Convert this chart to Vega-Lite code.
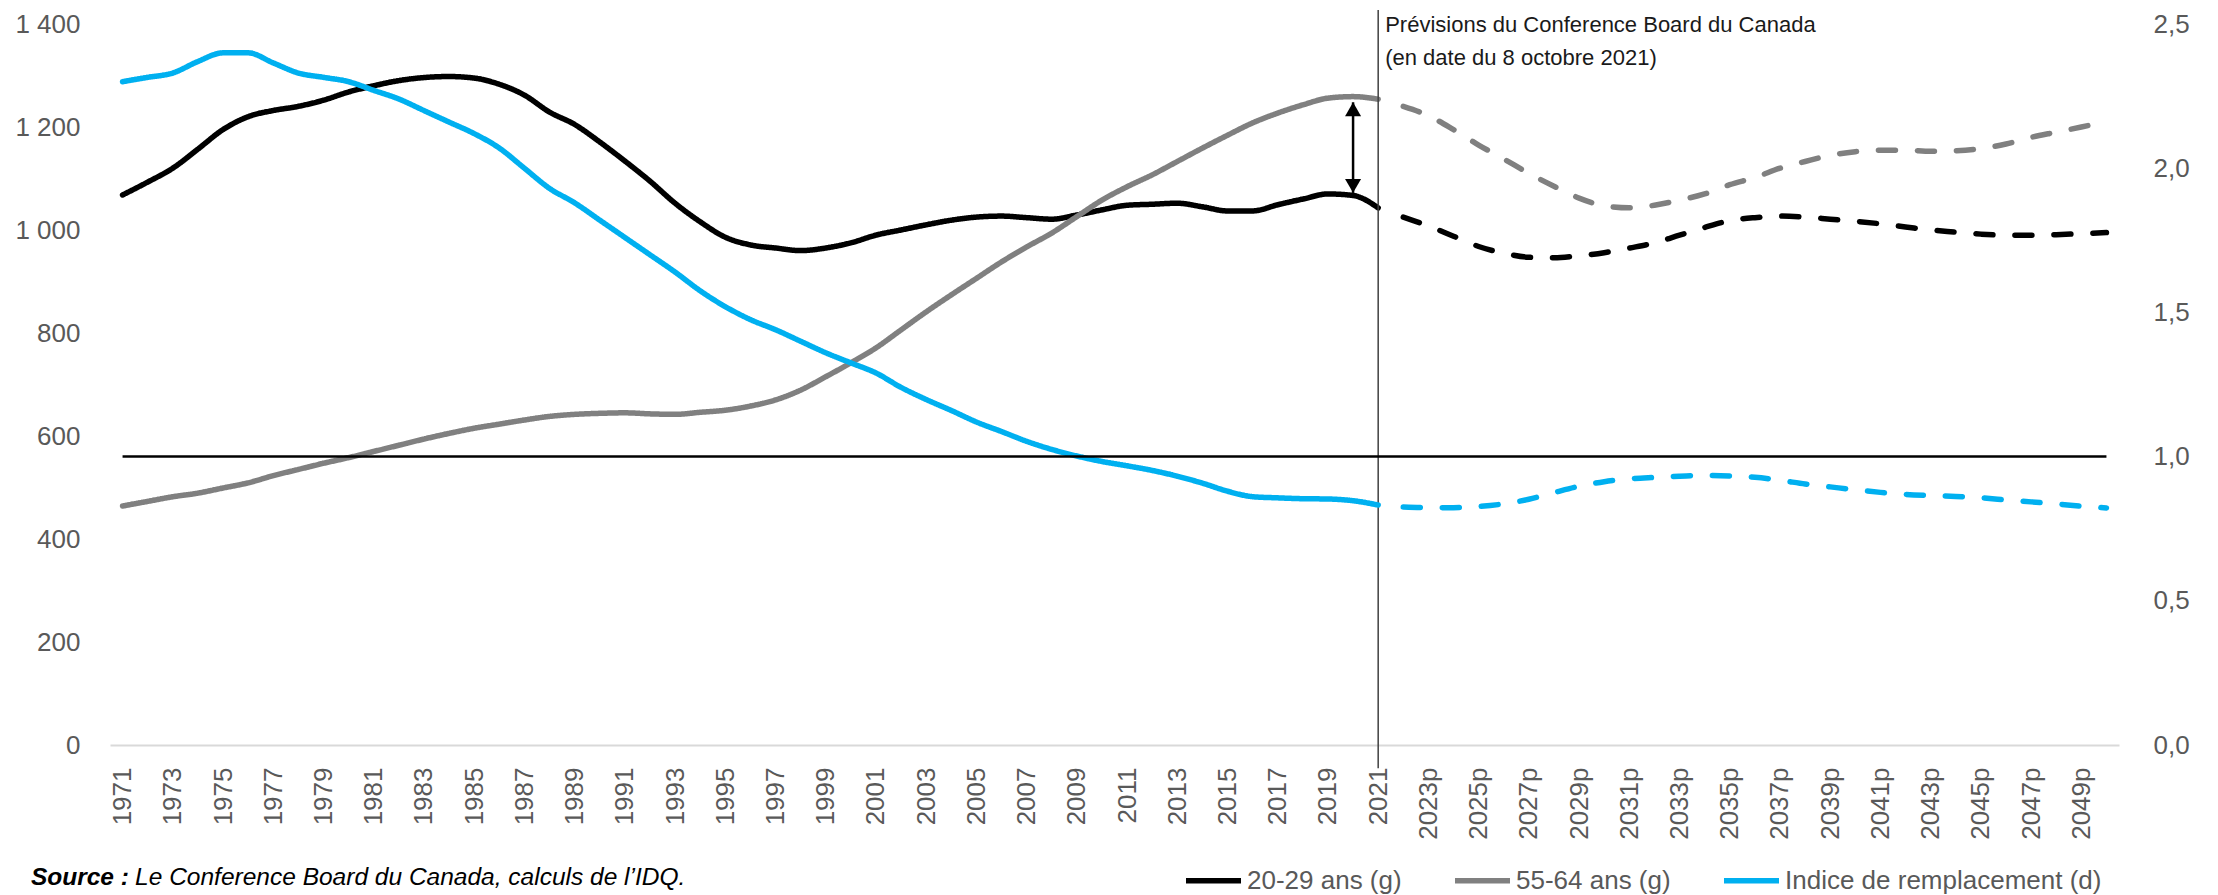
{
  "$schema": "https://vega.github.io/schema/vega-lite/v6.json",
  "width": 2009,
  "height": 721,
  "autosize": "none",
  "padding": {"left": 110, "top": 24, "right": 99, "bottom": 150},
  "background": "white",
  "datasets": {
    "series": [
      {"annee":1971,"serie":"20-29 ans (g)","phase":"obs","valeur":1068},
      {"annee":1972,"serie":"20-29 ans (g)","phase":"obs","valeur":1093},
      {"annee":1973,"serie":"20-29 ans (g)","phase":"obs","valeur":1120},
      {"annee":1974,"serie":"20-29 ans (g)","phase":"obs","valeur":1157},
      {"annee":1975,"serie":"20-29 ans (g)","phase":"obs","valeur":1195},
      {"annee":1976,"serie":"20-29 ans (g)","phase":"obs","valeur":1220},
      {"annee":1977,"serie":"20-29 ans (g)","phase":"obs","valeur":1232},
      {"annee":1978,"serie":"20-29 ans (g)","phase":"obs","valeur":1240},
      {"annee":1979,"serie":"20-29 ans (g)","phase":"obs","valeur":1252},
      {"annee":1980,"serie":"20-29 ans (g)","phase":"obs","valeur":1268},
      {"annee":1981,"serie":"20-29 ans (g)","phase":"obs","valeur":1280},
      {"annee":1982,"serie":"20-29 ans (g)","phase":"obs","valeur":1290},
      {"annee":1983,"serie":"20-29 ans (g)","phase":"obs","valeur":1296},
      {"annee":1984,"serie":"20-29 ans (g)","phase":"obs","valeur":1298},
      {"annee":1985,"serie":"20-29 ans (g)","phase":"obs","valeur":1295},
      {"annee":1986,"serie":"20-29 ans (g)","phase":"obs","valeur":1283},
      {"annee":1987,"serie":"20-29 ans (g)","phase":"obs","valeur":1262},
      {"annee":1988,"serie":"20-29 ans (g)","phase":"obs","valeur":1229},
      {"annee":1989,"serie":"20-29 ans (g)","phase":"obs","valeur":1205},
      {"annee":1990,"serie":"20-29 ans (g)","phase":"obs","valeur":1171},
      {"annee":1991,"serie":"20-29 ans (g)","phase":"obs","valeur":1134},
      {"annee":1992,"serie":"20-29 ans (g)","phase":"obs","valeur":1095},
      {"annee":1993,"serie":"20-29 ans (g)","phase":"obs","valeur":1052},
      {"annee":1994,"serie":"20-29 ans (g)","phase":"obs","valeur":1016},
      {"annee":1995,"serie":"20-29 ans (g)","phase":"obs","valeur":986},
      {"annee":1996,"serie":"20-29 ans (g)","phase":"obs","valeur":971},
      {"annee":1997,"serie":"20-29 ans (g)","phase":"obs","valeur":965},
      {"annee":1998,"serie":"20-29 ans (g)","phase":"obs","valeur":960},
      {"annee":1999,"serie":"20-29 ans (g)","phase":"obs","valeur":965},
      {"annee":2000,"serie":"20-29 ans (g)","phase":"obs","valeur":975},
      {"annee":2001,"serie":"20-29 ans (g)","phase":"obs","valeur":990},
      {"annee":2002,"serie":"20-29 ans (g)","phase":"obs","valeur":1000},
      {"annee":2003,"serie":"20-29 ans (g)","phase":"obs","valeur":1010},
      {"annee":2004,"serie":"20-29 ans (g)","phase":"obs","valeur":1019},
      {"annee":2005,"serie":"20-29 ans (g)","phase":"obs","valeur":1025},
      {"annee":2006,"serie":"20-29 ans (g)","phase":"obs","valeur":1027},
      {"annee":2007,"serie":"20-29 ans (g)","phase":"obs","valeur":1024},
      {"annee":2008,"serie":"20-29 ans (g)","phase":"obs","valeur":1021},
      {"annee":2009,"serie":"20-29 ans (g)","phase":"obs","valeur":1029},
      {"annee":2010,"serie":"20-29 ans (g)","phase":"obs","valeur":1039},
      {"annee":2011,"serie":"20-29 ans (g)","phase":"obs","valeur":1048},
      {"annee":2012,"serie":"20-29 ans (g)","phase":"obs","valeur":1050},
      {"annee":2013,"serie":"20-29 ans (g)","phase":"obs","valeur":1052},
      {"annee":2014,"serie":"20-29 ans (g)","phase":"obs","valeur":1045},
      {"annee":2015,"serie":"20-29 ans (g)","phase":"obs","valeur":1037},
      {"annee":2016,"serie":"20-29 ans (g)","phase":"obs","valeur":1037},
      {"annee":2017,"serie":"20-29 ans (g)","phase":"obs","valeur":1049},
      {"annee":2018,"serie":"20-29 ans (g)","phase":"obs","valeur":1060},
      {"annee":2019,"serie":"20-29 ans (g)","phase":"obs","valeur":1070},
      {"annee":2020,"serie":"20-29 ans (g)","phase":"obs","valeur":1067},
      {"annee":2021,"serie":"20-29 ans (g)","phase":"obs","valeur":1043},
      {"annee":2022,"serie":"20-29 ans (g)","phase":"prev","valeur":1025},
      {"annee":2023,"serie":"20-29 ans (g)","phase":"prev","valeur":1008},
      {"annee":2024,"serie":"20-29 ans (g)","phase":"prev","valeur":988},
      {"annee":2025,"serie":"20-29 ans (g)","phase":"prev","valeur":968},
      {"annee":2026,"serie":"20-29 ans (g)","phase":"prev","valeur":955},
      {"annee":2027,"serie":"20-29 ans (g)","phase":"prev","valeur":947},
      {"annee":2028,"serie":"20-29 ans (g)","phase":"prev","valeur":946},
      {"annee":2029,"serie":"20-29 ans (g)","phase":"prev","valeur":950},
      {"annee":2030,"serie":"20-29 ans (g)","phase":"prev","valeur":956},
      {"annee":2031,"serie":"20-29 ans (g)","phase":"prev","valeur":965},
      {"annee":2032,"serie":"20-29 ans (g)","phase":"prev","valeur":975},
      {"annee":2033,"serie":"20-29 ans (g)","phase":"prev","valeur":990},
      {"annee":2034,"serie":"20-29 ans (g)","phase":"prev","valeur":1005},
      {"annee":2035,"serie":"20-29 ans (g)","phase":"prev","valeur":1018},
      {"annee":2036,"serie":"20-29 ans (g)","phase":"prev","valeur":1024},
      {"annee":2037,"serie":"20-29 ans (g)","phase":"prev","valeur":1027},
      {"annee":2038,"serie":"20-29 ans (g)","phase":"prev","valeur":1025},
      {"annee":2039,"serie":"20-29 ans (g)","phase":"prev","valeur":1021},
      {"annee":2040,"serie":"20-29 ans (g)","phase":"prev","valeur":1017},
      {"annee":2041,"serie":"20-29 ans (g)","phase":"prev","valeur":1012},
      {"annee":2042,"serie":"20-29 ans (g)","phase":"prev","valeur":1006},
      {"annee":2043,"serie":"20-29 ans (g)","phase":"prev","valeur":1000},
      {"annee":2044,"serie":"20-29 ans (g)","phase":"prev","valeur":996},
      {"annee":2045,"serie":"20-29 ans (g)","phase":"prev","valeur":992},
      {"annee":2046,"serie":"20-29 ans (g)","phase":"prev","valeur":990},
      {"annee":2047,"serie":"20-29 ans (g)","phase":"prev","valeur":990},
      {"annee":2048,"serie":"20-29 ans (g)","phase":"prev","valeur":991},
      {"annee":2049,"serie":"20-29 ans (g)","phase":"prev","valeur":993},
      {"annee":2050,"serie":"20-29 ans (g)","phase":"prev","valeur":995},
      {"annee":1971,"serie":"55-64 ans (g)","phase":"obs","valeur":464},
      {"annee":1972,"serie":"55-64 ans (g)","phase":"obs","valeur":473},
      {"annee":1973,"serie":"55-64 ans (g)","phase":"obs","valeur":482},
      {"annee":1974,"serie":"55-64 ans (g)","phase":"obs","valeur":489},
      {"annee":1975,"serie":"55-64 ans (g)","phase":"obs","valeur":499},
      {"annee":1976,"serie":"55-64 ans (g)","phase":"obs","valeur":509},
      {"annee":1977,"serie":"55-64 ans (g)","phase":"obs","valeur":523},
      {"annee":1978,"serie":"55-64 ans (g)","phase":"obs","valeur":535},
      {"annee":1979,"serie":"55-64 ans (g)","phase":"obs","valeur":547},
      {"annee":1980,"serie":"55-64 ans (g)","phase":"obs","valeur":558},
      {"annee":1981,"serie":"55-64 ans (g)","phase":"obs","valeur":570},
      {"annee":1982,"serie":"55-64 ans (g)","phase":"obs","valeur":582},
      {"annee":1983,"serie":"55-64 ans (g)","phase":"obs","valeur":594},
      {"annee":1984,"serie":"55-64 ans (g)","phase":"obs","valeur":605},
      {"annee":1985,"serie":"55-64 ans (g)","phase":"obs","valeur":615},
      {"annee":1986,"serie":"55-64 ans (g)","phase":"obs","valeur":623},
      {"annee":1987,"serie":"55-64 ans (g)","phase":"obs","valeur":631},
      {"annee":1988,"serie":"55-64 ans (g)","phase":"obs","valeur":638},
      {"annee":1989,"serie":"55-64 ans (g)","phase":"obs","valeur":642},
      {"annee":1990,"serie":"55-64 ans (g)","phase":"obs","valeur":644},
      {"annee":1991,"serie":"55-64 ans (g)","phase":"obs","valeur":645},
      {"annee":1992,"serie":"55-64 ans (g)","phase":"obs","valeur":643},
      {"annee":1993,"serie":"55-64 ans (g)","phase":"obs","valeur":642},
      {"annee":1994,"serie":"55-64 ans (g)","phase":"obs","valeur":646},
      {"annee":1995,"serie":"55-64 ans (g)","phase":"obs","valeur":650},
      {"annee":1996,"serie":"55-64 ans (g)","phase":"obs","valeur":658},
      {"annee":1997,"serie":"55-64 ans (g)","phase":"obs","valeur":670},
      {"annee":1998,"serie":"55-64 ans (g)","phase":"obs","valeur":689},
      {"annee":1999,"serie":"55-64 ans (g)","phase":"obs","valeur":715},
      {"annee":2000,"serie":"55-64 ans (g)","phase":"obs","valeur":742},
      {"annee":2001,"serie":"55-64 ans (g)","phase":"obs","valeur":771},
      {"annee":2002,"serie":"55-64 ans (g)","phase":"obs","valeur":806},
      {"annee":2003,"serie":"55-64 ans (g)","phase":"obs","valeur":841},
      {"annee":2004,"serie":"55-64 ans (g)","phase":"obs","valeur":874},
      {"annee":2005,"serie":"55-64 ans (g)","phase":"obs","valeur":906},
      {"annee":2006,"serie":"55-64 ans (g)","phase":"obs","valeur":938},
      {"annee":2007,"serie":"55-64 ans (g)","phase":"obs","valeur":967},
      {"annee":2008,"serie":"55-64 ans (g)","phase":"obs","valeur":994},
      {"annee":2009,"serie":"55-64 ans (g)","phase":"obs","valeur":1026},
      {"annee":2010,"serie":"55-64 ans (g)","phase":"obs","valeur":1058},
      {"annee":2011,"serie":"55-64 ans (g)","phase":"obs","valeur":1084},
      {"annee":2012,"serie":"55-64 ans (g)","phase":"obs","valeur":1107},
      {"annee":2013,"serie":"55-64 ans (g)","phase":"obs","valeur":1133},
      {"annee":2014,"serie":"55-64 ans (g)","phase":"obs","valeur":1159},
      {"annee":2015,"serie":"55-64 ans (g)","phase":"obs","valeur":1184},
      {"annee":2016,"serie":"55-64 ans (g)","phase":"obs","valeur":1208},
      {"annee":2017,"serie":"55-64 ans (g)","phase":"obs","valeur":1227},
      {"annee":2018,"serie":"55-64 ans (g)","phase":"obs","valeur":1243},
      {"annee":2019,"serie":"55-64 ans (g)","phase":"obs","valeur":1256},
      {"annee":2020,"serie":"55-64 ans (g)","phase":"obs","valeur":1259},
      {"annee":2021,"serie":"55-64 ans (g)","phase":"obs","valeur":1254},
      {"annee":2022,"serie":"55-64 ans (g)","phase":"prev","valeur":1240},
      {"annee":2023,"serie":"55-64 ans (g)","phase":"prev","valeur":1222},
      {"annee":2024,"serie":"55-64 ans (g)","phase":"prev","valeur":1195},
      {"annee":2025,"serie":"55-64 ans (g)","phase":"prev","valeur":1165},
      {"annee":2026,"serie":"55-64 ans (g)","phase":"prev","valeur":1138},
      {"annee":2027,"serie":"55-64 ans (g)","phase":"prev","valeur":1110},
      {"annee":2028,"serie":"55-64 ans (g)","phase":"prev","valeur":1085},
      {"annee":2029,"serie":"55-64 ans (g)","phase":"prev","valeur":1062},
      {"annee":2030,"serie":"55-64 ans (g)","phase":"prev","valeur":1047},
      {"annee":2031,"serie":"55-64 ans (g)","phase":"prev","valeur":1043},
      {"annee":2032,"serie":"55-64 ans (g)","phase":"prev","valeur":1048},
      {"annee":2033,"serie":"55-64 ans (g)","phase":"prev","valeur":1058},
      {"annee":2034,"serie":"55-64 ans (g)","phase":"prev","valeur":1070},
      {"annee":2035,"serie":"55-64 ans (g)","phase":"prev","valeur":1088},
      {"annee":2036,"serie":"55-64 ans (g)","phase":"prev","valeur":1102},
      {"annee":2037,"serie":"55-64 ans (g)","phase":"prev","valeur":1120},
      {"annee":2038,"serie":"55-64 ans (g)","phase":"prev","valeur":1133},
      {"annee":2039,"serie":"55-64 ans (g)","phase":"prev","valeur":1145},
      {"annee":2040,"serie":"55-64 ans (g)","phase":"prev","valeur":1152},
      {"annee":2041,"serie":"55-64 ans (g)","phase":"prev","valeur":1155},
      {"annee":2042,"serie":"55-64 ans (g)","phase":"prev","valeur":1155},
      {"annee":2043,"serie":"55-64 ans (g)","phase":"prev","valeur":1153},
      {"annee":2044,"serie":"55-64 ans (g)","phase":"prev","valeur":1154},
      {"annee":2045,"serie":"55-64 ans (g)","phase":"prev","valeur":1158},
      {"annee":2046,"serie":"55-64 ans (g)","phase":"prev","valeur":1167},
      {"annee":2047,"serie":"55-64 ans (g)","phase":"prev","valeur":1180},
      {"annee":2048,"serie":"55-64 ans (g)","phase":"prev","valeur":1190},
      {"annee":2049,"serie":"55-64 ans (g)","phase":"prev","valeur":1200},
      {"annee":2050,"serie":"55-64 ans (g)","phase":"prev","valeur":1211}
    ],
    "indice": [
      {"annee":1971,"serie":"Indice de remplacement (d)","phase":"obs","valeur":2.30},
      {"annee":1972,"serie":"Indice de remplacement (d)","phase":"obs","valeur":2.315},
      {"annee":1973,"serie":"Indice de remplacement (d)","phase":"obs","valeur":2.33},
      {"annee":1974,"serie":"Indice de remplacement (d)","phase":"obs","valeur":2.37},
      {"annee":1975,"serie":"Indice de remplacement (d)","phase":"obs","valeur":2.40},
      {"annee":1976,"serie":"Indice de remplacement (d)","phase":"obs","valeur":2.40},
      {"annee":1977,"serie":"Indice de remplacement (d)","phase":"obs","valeur":2.365},
      {"annee":1978,"serie":"Indice de remplacement (d)","phase":"obs","valeur":2.33},
      {"annee":1979,"serie":"Indice de remplacement (d)","phase":"obs","valeur":2.315},
      {"annee":1980,"serie":"Indice de remplacement (d)","phase":"obs","valeur":2.30},
      {"annee":1981,"serie":"Indice de remplacement (d)","phase":"obs","valeur":2.27},
      {"annee":1982,"serie":"Indice de remplacement (d)","phase":"obs","valeur":2.24},
      {"annee":1983,"serie":"Indice de remplacement (d)","phase":"obs","valeur":2.20},
      {"annee":1984,"serie":"Indice de remplacement (d)","phase":"obs","valeur":2.16},
      {"annee":1985,"serie":"Indice de remplacement (d)","phase":"obs","valeur":2.12},
      {"annee":1986,"serie":"Indice de remplacement (d)","phase":"obs","valeur":2.07},
      {"annee":1987,"serie":"Indice de remplacement (d)","phase":"obs","valeur":2.00},
      {"annee":1988,"serie":"Indice de remplacement (d)","phase":"obs","valeur":1.93},
      {"annee":1989,"serie":"Indice de remplacement (d)","phase":"obs","valeur":1.88},
      {"annee":1990,"serie":"Indice de remplacement (d)","phase":"obs","valeur":1.82},
      {"annee":1991,"serie":"Indice de remplacement (d)","phase":"obs","valeur":1.76},
      {"annee":1992,"serie":"Indice de remplacement (d)","phase":"obs","valeur":1.70},
      {"annee":1993,"serie":"Indice de remplacement (d)","phase":"obs","valeur":1.64},
      {"annee":1994,"serie":"Indice de remplacement (d)","phase":"obs","valeur":1.575},
      {"annee":1995,"serie":"Indice de remplacement (d)","phase":"obs","valeur":1.52},
      {"annee":1996,"serie":"Indice de remplacement (d)","phase":"obs","valeur":1.475},
      {"annee":1997,"serie":"Indice de remplacement (d)","phase":"obs","valeur":1.44},
      {"annee":1998,"serie":"Indice de remplacement (d)","phase":"obs","valeur":1.40},
      {"annee":1999,"serie":"Indice de remplacement (d)","phase":"obs","valeur":1.36},
      {"annee":2000,"serie":"Indice de remplacement (d)","phase":"obs","valeur":1.325},
      {"annee":2001,"serie":"Indice de remplacement (d)","phase":"obs","valeur":1.29},
      {"annee":2002,"serie":"Indice de remplacement (d)","phase":"obs","valeur":1.24},
      {"annee":2003,"serie":"Indice de remplacement (d)","phase":"obs","valeur":1.198},
      {"annee":2004,"serie":"Indice de remplacement (d)","phase":"obs","valeur":1.16},
      {"annee":2005,"serie":"Indice de remplacement (d)","phase":"obs","valeur":1.12},
      {"annee":2006,"serie":"Indice de remplacement (d)","phase":"obs","valeur":1.087},
      {"annee":2007,"serie":"Indice de remplacement (d)","phase":"obs","valeur":1.053},
      {"annee":2008,"serie":"Indice de remplacement (d)","phase":"obs","valeur":1.025},
      {"annee":2009,"serie":"Indice de remplacement (d)","phase":"obs","valeur":1.002},
      {"annee":2010,"serie":"Indice de remplacement (d)","phase":"obs","valeur":0.983},
      {"annee":2011,"serie":"Indice de remplacement (d)","phase":"obs","valeur":0.968},
      {"annee":2012,"serie":"Indice de remplacement (d)","phase":"obs","valeur":0.952},
      {"annee":2013,"serie":"Indice de remplacement (d)","phase":"obs","valeur":0.932},
      {"annee":2014,"serie":"Indice de remplacement (d)","phase":"obs","valeur":0.908},
      {"annee":2015,"serie":"Indice de remplacement (d)","phase":"obs","valeur":0.88},
      {"annee":2016,"serie":"Indice de remplacement (d)","phase":"obs","valeur":0.861},
      {"annee":2017,"serie":"Indice de remplacement (d)","phase":"obs","valeur":0.857},
      {"annee":2018,"serie":"Indice de remplacement (d)","phase":"obs","valeur":0.854},
      {"annee":2019,"serie":"Indice de remplacement (d)","phase":"obs","valeur":0.853},
      {"annee":2020,"serie":"Indice de remplacement (d)","phase":"obs","valeur":0.847},
      {"annee":2021,"serie":"Indice de remplacement (d)","phase":"obs","valeur":0.832},
      {"annee":2022,"serie":"Indice de remplacement (d)","phase":"prev","valeur":0.825},
      {"annee":2023,"serie":"Indice de remplacement (d)","phase":"prev","valeur":0.823},
      {"annee":2024,"serie":"Indice de remplacement (d)","phase":"prev","valeur":0.823},
      {"annee":2025,"serie":"Indice de remplacement (d)","phase":"prev","valeur":0.827},
      {"annee":2026,"serie":"Indice de remplacement (d)","phase":"prev","valeur":0.836},
      {"annee":2027,"serie":"Indice de remplacement (d)","phase":"prev","valeur":0.852},
      {"annee":2028,"serie":"Indice de remplacement (d)","phase":"prev","valeur":0.875},
      {"annee":2029,"serie":"Indice de remplacement (d)","phase":"prev","valeur":0.897},
      {"annee":2030,"serie":"Indice de remplacement (d)","phase":"prev","valeur":0.913},
      {"annee":2031,"serie":"Indice de remplacement (d)","phase":"prev","valeur":0.923},
      {"annee":2032,"serie":"Indice de remplacement (d)","phase":"prev","valeur":0.928},
      {"annee":2033,"serie":"Indice de remplacement (d)","phase":"prev","valeur":0.932},
      {"annee":2034,"serie":"Indice de remplacement (d)","phase":"prev","valeur":0.935},
      {"annee":2035,"serie":"Indice de remplacement (d)","phase":"prev","valeur":0.933},
      {"annee":2036,"serie":"Indice de remplacement (d)","phase":"prev","valeur":0.928},
      {"annee":2037,"serie":"Indice de remplacement (d)","phase":"prev","valeur":0.918},
      {"annee":2038,"serie":"Indice de remplacement (d)","phase":"prev","valeur":0.905},
      {"annee":2039,"serie":"Indice de remplacement (d)","phase":"prev","valeur":0.895},
      {"annee":2040,"serie":"Indice de remplacement (d)","phase":"prev","valeur":0.885},
      {"annee":2041,"serie":"Indice de remplacement (d)","phase":"prev","valeur":0.876},
      {"annee":2042,"serie":"Indice de remplacement (d)","phase":"prev","valeur":0.869},
      {"annee":2043,"serie":"Indice de remplacement (d)","phase":"prev","valeur":0.865},
      {"annee":2044,"serie":"Indice de remplacement (d)","phase":"prev","valeur":0.862},
      {"annee":2045,"serie":"Indice de remplacement (d)","phase":"prev","valeur":0.857},
      {"annee":2046,"serie":"Indice de remplacement (d)","phase":"prev","valeur":0.850},
      {"annee":2047,"serie":"Indice de remplacement (d)","phase":"prev","valeur":0.843},
      {"annee":2048,"serie":"Indice de remplacement (d)","phase":"prev","valeur":0.836},
      {"annee":2049,"serie":"Indice de remplacement (d)","phase":"prev","valeur":0.828},
      {"annee":2050,"serie":"Indice de remplacement (d)","phase":"prev","valeur":0.822}
    ]
  },
  "layer": [
    {
      "layer": [
        {
          "data": {"name": "series"},
          "mark": {"type": "line", "strokeWidth": 5.5, "strokeCap": "round", "strokeJoin": "round", "interpolate": "monotone"},
          "encoding": {
            "x": {"field": "annee", "type": "quantitative",
              "scale": {"domain": [1970.5, 2050.5], "nice": false, "zero": false},
              "axis": {"values": [1971,1973,1975,1977,1979,1981,1983,1985,1987,1989,1991,1993,1995,1997,1999,2001,2003,2005,2007,2009,2011,2013,2015,2017,2019,2021,2023,2025,2027,2029,2031,2033,2035,2037,2039,2041,2043,2045,2047,2049],
                "labelExpr": "datum.value > 2021 ? toString(datum.value) + 'p' : toString(datum.value)",
                "labelAngle": 270, "labelAlign": "right", "labelBaseline": "middle", "labelPadding": 22,
                "labelFontSize": 26, "labelColor": "#595959", "labelFont": "Liberation Sans",
                "ticks": false, "grid": false, "domainColor": "#d9d9d9", "domainWidth": 2, "title": null, "labelOverlap": false}},
            "y": {"field": "valeur", "type": "quantitative",
              "scale": {"domain": [0, 1400], "nice": false},
              "axis": {"values": [0,200,400,600,800,1000,1200,1400], "labelExpr": "replace(format(datum.value, ','), ',', ' ')",
                "labelFontSize": 26, "labelColor": "#595959", "labelFont": "Liberation Sans", "labelPadding": 30,
                "ticks": false, "domain": false, "grid": false, "title": null}},
            "color": {"field": "serie", "type": "nominal",
              "scale": {"domain": ["20-29 ans (g)", "55-64 ans (g)", "Indice de remplacement (d)"], "range": ["#000000", "#808080", "#00b0f0"]},
              "legend": {"orient": "none", "legendX": 1073, "legendY": 826, "direction": "horizontal", "title": null,
                "symbolType": "stroke", "symbolSize": 3025, "symbolStrokeWidth": 5.5, "labelFontSize": 26, "labelColor": "#595959",
                "labelFont": "Liberation Sans", "labelOffset": 3, "labelLimit": 0, "columnPadding": 42, "symbolOpacity": 1}},
            "strokeDash": {"field": "phase", "type": "nominal", "scale": {"domain": ["obs", "prev"], "range": [[1, 0], [17, 22]]}, "legend": null},
            "detail": {"field": "phase"}
          }
        },
        {
          "data": {"values": [{"annee": 2020, "bas": 1072, "haut": 1248}]},
          "mark": {"type": "rule", "color": "#000000", "strokeWidth": 2.5},
          "encoding": {
            "x": {"field": "annee", "type": "quantitative"},
            "y": {"field": "bas", "type": "quantitative"},
            "y2": {"field": "haut"}
          }
        },
        {
          "data": {"values": [{"annee": 2020, "bas": 1072, "haut": 1248}]},
          "mark": {"type": "point", "shape": "triangle-up", "size": 256, "filled": true, "color": "#000000", "opacity": 1, "yOffset": 7},
          "encoding": {
            "x": {"field": "annee", "type": "quantitative"},
            "y": {"field": "haut", "type": "quantitative"}
          }
        },
        {
          "data": {"values": [{"annee": 2020, "bas": 1072, "haut": 1248}]},
          "mark": {"type": "point", "shape": "triangle-down", "size": 256, "filled": true, "color": "#000000", "opacity": 1, "yOffset": -7},
          "encoding": {
            "x": {"field": "annee", "type": "quantitative"},
            "y": {"field": "bas", "type": "quantitative"}
          }
        },
        {
          "data": {"values": [{"annee": 2021}]},
          "mark": {"type": "rule", "color": "#404040", "strokeWidth": 1.5},
          "encoding": {
            "x": {"field": "annee", "type": "quantitative"},
            "y": {"datum": 1427},
            "y2": {"datum": -45}
          }
        },
        {
          "data": {"values": [{"annee": 2021, "ligne1": "Prévisions du Conference Board du Canada", "ligne2": "(en date du 8 octobre 2021)"}]},
          "mark": {"type": "text", "align": "left", "baseline": "middle", "dx": 7, "fontSize": 22, "font": "Liberation Sans", "color": "#1a1a1a"},
          "encoding": {
            "x": {"field": "annee", "type": "quantitative"},
            "y": {"datum": 1398},
            "text": {"field": "ligne1"}
          }
        },
        {
          "data": {"values": [{"annee": 2021, "ligne1": "Prévisions du Conference Board du Canada", "ligne2": "(en date du 8 octobre 2021)"}]},
          "mark": {"type": "text", "align": "left", "baseline": "middle", "dx": 7, "fontSize": 22, "font": "Liberation Sans", "color": "#1a1a1a"},
          "encoding": {
            "x": {"field": "annee", "type": "quantitative"},
            "y": {"datum": 1334},
            "text": {"field": "ligne2"}
          }
        },
        {
          "data": {"values": [{"texte": "Source :"}]},
          "mark": {"type": "text", "align": "left", "baseline": "middle", "fontSize": 24.5, "font": "Liberation Sans", "fontStyle": "italic", "fontWeight": "bold", "color": "#000000"},
          "encoding": {
            "x": {"datum": 1967.35},
            "y": {"datum": -258},
            "text": {"field": "texte"}
          }
        },
        {
          "data": {"values": [{"texte": "Le Conference Board du Canada, calculs de l’IDQ."}]},
          "mark": {"type": "text", "align": "left", "baseline": "middle", "fontSize": 24.5, "font": "Liberation Sans", "fontStyle": "italic", "color": "#000000"},
          "encoding": {
            "x": {"datum": 1971.5},
            "y": {"datum": -258},
            "text": {"field": "texte"}
          }
        }
      ]
    },
    {
      "layer": [
        {
          "data": {"name": "indice"},
          "mark": {"type": "line", "strokeWidth": 5.5, "strokeCap": "round", "strokeJoin": "round", "interpolate": "monotone"},
          "encoding": {
            "x": {"field": "annee", "type": "quantitative"},
            "y": {"field": "valeur", "type": "quantitative",
              "scale": {"domain": [0, 2.5], "nice": false},
              "axis": {"orient": "right", "values": [0, 0.5, 1, 1.5, 2, 2.5], "labelExpr": "replace(format(datum.value, '.1f'), '.', ',')",
                "labelFontSize": 26, "labelColor": "#595959", "labelFont": "Liberation Sans", "labelPadding": 34,
                "ticks": false, "domain": false, "grid": false, "title": null}},
            "color": {"field": "serie", "type": "nominal"},
            "strokeDash": {"field": "phase", "type": "nominal", "legend": null},
            "detail": {"field": "phase"}
          }
        },
        {
          "data": {"values": [{"debut": 1971, "fin": 2050, "seuil": 1}]},
          "mark": {"type": "rule", "color": "#000000", "strokeWidth": 2.5},
          "encoding": {
            "x": {"field": "debut", "type": "quantitative"},
            "x2": {"field": "fin"},
            "y": {"field": "seuil", "type": "quantitative"}
          }
        }
      ]
    }
  ],
  "resolve": {"scale": {"y": "independent"}, "axis": {"y": "independent"}},
  "config": {"view": {"stroke": null}, "font": "Liberation Sans"}
}
